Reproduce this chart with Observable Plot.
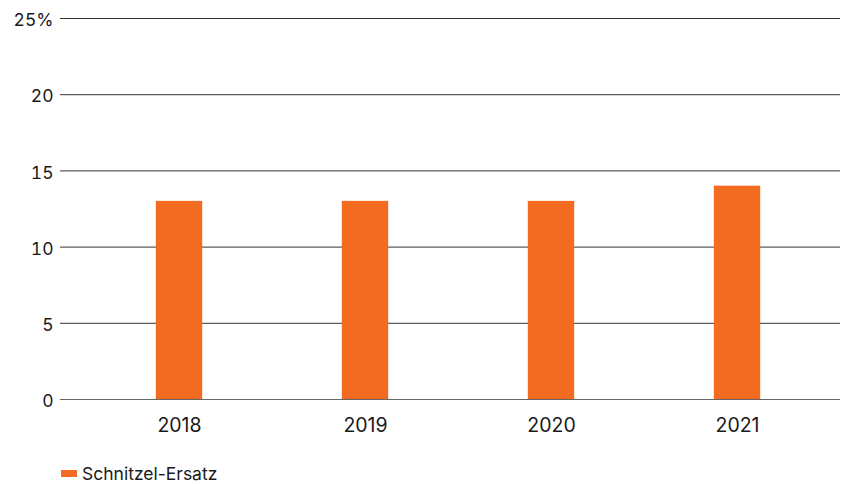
<!DOCTYPE html>
<html>
<head>
<meta charset="utf-8">
<script src="https://cdn.jsdelivr.net/npm/d3@7"></script>
<script src="https://cdn.jsdelivr.net/npm/@observablehq/plot@0.6"></script>
<style>
  html, body { margin: 0; padding: 0; background: #fff; }
  body { width: 850px; height: 484px; overflow: hidden; font-family: Inter, Roboto, sans-serif; color: #1a1a1a; }
  .legend { display: flex; align-items: center; height: 22px; margin-left: 61px; font-size: 17.5px; color: #1a1a1a; }
  .legend .swatch { width: 16px; height: 7px; background: #F26B21; margin-right: 5px; }
</style>
</head>
<body>
<div id="chart"></div>
<script>
// Share of "Schnitzel-Ersatz", in percent, by year
const years = ["2018", "2019", "2020", "2021"];
const shares = [13, 13, 13, 14];
const yTicks = [0, 5, 10, 15, 20, 25];
const seriesName = "Schnitzel-Ersatz";
const barColor = "#F26B21";

const data = years.map((year, i) => ({year, share: shares[i]}));

const chart = Plot.plot({
  width: 850,
  height: 462,
  marginTop: 18,
  marginBottom: 63,
  marginLeft: 60,
  marginRight: 10,
  style: {fontFamily: "Inter, Roboto, sans-serif", fontSize: "17.5px", color: "#1a1a1a", background: "#fff"},
  x: {domain: years, range: [85.2, 831.8], padding: 0, label: null},
  y: {domain: [0, 25], ticks: yTicks, label: null},
  marks: [
    Plot.ruleY(yTicks.filter(d => d > 0), {stroke: "#333", strokeWidth: 1}),
    Plot.barY(data, {x: "year", y: "share", fill: barColor, insetLeft: 69.8, insetRight: 69.8}),
    Plot.ruleY([0], {stroke: "#666", strokeWidth: 1}),
    Plot.axisY(yTicks, {
      tickSize: 0, tickPadding: 7, dy: 2,
      tickFormat: d => d === 25 ? "25%" : String(d),
      fill: "#1a1a1a"
    }),
    Plot.axisX(years, {tickSize: 0, tickPadding: 19, fontSize: 19.5, fill: "#1a1a1a"})
  ]
});

document.getElementById("chart").appendChild(chart);

const legend = document.createElement("div");
legend.className = "legend";
const swatch = document.createElement("span");
swatch.className = "swatch";
const label = document.createElement("span");
label.textContent = seriesName;
legend.append(swatch, label);
document.body.appendChild(legend);
</script>
</body>
</html>
